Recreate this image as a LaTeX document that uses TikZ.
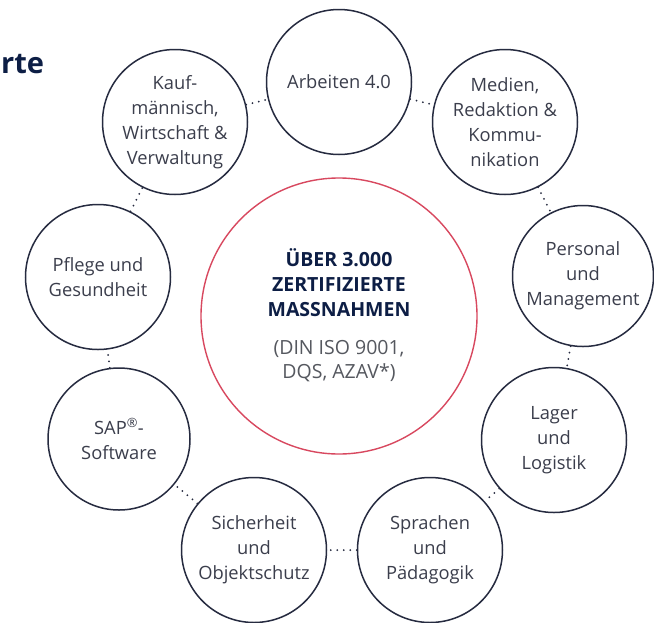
\documentclass[tikz,border=0pt]{standalone}
\usepackage{fontspec}
\setmainfont{Open Sans}
\definecolor{ringc}{HTML}{262B40}
\definecolor{redc}{HTML}{D8485F}
\definecolor{txtc}{HTML}{3B3E4C}
\definecolor{navy}{HTML}{0D1E45}
\definecolor{greyc}{HTML}{55585F}
\begin{document}
\begin{tikzpicture}[x=1pt,y=-1pt,
  topic/.style={circle,draw=ringc,line width=1.5pt,minimum size=145pt,inner sep=0pt,
    align=center,text=txtc,font=\fontsize{18.3}{25}\selectfont},
  hub/.style={circle,draw=redc,line width=1.4pt,minimum size=276pt,inner sep=0pt,align=center},
  link/.style={line width=2pt,ringc,line cap=round,dash pattern=on 0pt off 6.5pt}]
\useasboundingbox (0,0) rectangle (654,622);
\fill[white] (0,0) rectangle (654,622);
\node[anchor=base west,inner sep=0pt,font=\fontsize{29}{29}\bfseries\selectfont,text=navy] (title) at (1,73) {rte};
\node[hub] (hub) at (339,316) {};
\node[align=center,text=navy,font=\fontsize{19.5}{25}\bfseries\selectfont] (hubt) at (339,283) {ÜBER 3.000\\ZERTIFIZIERTE\\MASSNAHMEN};
\node[align=center,text=greyc,font=\fontsize{19.5}{24}\selectfont] (hubs) at (339,361) {(DIN ISO 9001,\\DQS, AZAV*)};
\node[topic] (arb) at (339,82) {Arbeiten 4.0};
\node[topic] (med) at (505,122) {Medien,\\Redaktion \&\\Kommu-\\nikation};
\node[topic,minimum size=141pt] (per) at (583,276) {Personal\\und\\Management};
\node[topic] (lag) at (554,440) {Lager\\und\\Logistik};
\node[topic] (spr) at (430,550) {Sprachen\\und\\Pädagogik};
\node[topic] (sich) at (254,550) {Sicherheit\\und\\Objektschutz};
\node[topic,minimum size=142pt] (sap) at (119,439) {SAP\textsuperscript{®}-\\Software};
\node[topic] (pfl) at (98,277) {Pflege und\\Gesundheit};
\node[topic] (kauf) at (175,122) {Kauf-\\männisch,\\Wirtschaft \&\\Verwaltung};
\draw[link] (kauf) -- (arb);
\draw[link] (arb) -- (med);
\draw[link] (med) -- (per);
\draw[link] (per) -- (lag);
\draw[link] (lag) -- (spr);
\draw[link] (spr) -- (sich);
\draw[link] (sich) -- (sap);
\draw[link] (sap) -- (pfl);
\draw[link] (pfl) -- (kauf);
\end{tikzpicture}
\end{document}
